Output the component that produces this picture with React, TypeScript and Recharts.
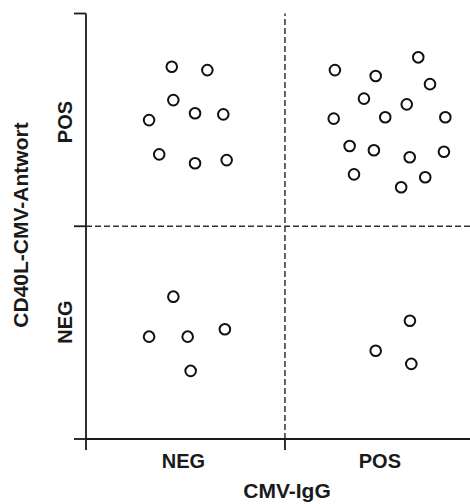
import React from 'react';
import { ScatterChart, Scatter, XAxis, YAxis, ReferenceLine, Label } from 'recharts';

// Quadrant points (x: CMV-IgG scale, y: CD40L-CMV-Antwort scale)
const igNegRespPos = [
  { x: 0.431, y: 1.75 }, { x: 0.61, y: 1.734 }, { x: 0.439, y: 1.593 },
  { x: 0.548, y: 1.531 }, { x: 0.69, y: 1.526 }, { x: 0.317, y: 1.499 },
  { x: 0.368, y: 1.338 }, { x: 0.548, y: 1.296 }, { x: 0.707, y: 1.311 },
];
const igPosRespPos = [
  { x: 1.67, y: 1.794 }, { x: 1.251, y: 1.734 }, { x: 1.456, y: 1.706 },
  { x: 1.729, y: 1.668 }, { x: 1.397, y: 1.6 }, { x: 1.612, y: 1.573 },
  { x: 1.245, y: 1.506 }, { x: 1.504, y: 1.512 }, { x: 1.806, y: 1.512 },
  { x: 1.325, y: 1.377 }, { x: 1.447, y: 1.357 }, { x: 1.627, y: 1.324 },
  { x: 1.799, y: 1.35 }, { x: 1.347, y: 1.244 }, { x: 1.705, y: 1.23 },
  { x: 1.584, y: 1.183 },
];
const igNegRespNeg = [
  { x: 0.439, y: 0.669 }, { x: 0.317, y: 0.481 }, { x: 0.511, y: 0.481 },
  { x: 0.698, y: 0.516 }, { x: 0.526, y: 0.32 },
];
const igPosRespNeg = [
  { x: 1.628, y: 0.556 }, { x: 1.456, y: 0.415 }, { x: 1.635, y: 0.353 },
];

const xDividers = [0, 1];
const xLabelTicks = [0.49, 1.477];
const xLabelNames = ['NEG', 'POS'];
const yDividers = [0, 1, 2];
const yLabelTicks = [0.55, 1.49];
const yLabelNames = ['NEG', 'POS'];

const xTitle = 'CMV-IgG';
const yTitle = 'CD40L-CMV-Antwort';

const FONT = '"Liberation Sans", Arial, Helvetica, sans-serif';
const INK = '#1a1a1a';

const XTick = (props: any) => {
  const { x, y, payload } = props;
  const v = payload.value;
  if (xDividers.includes(v)) {
    return <line x1={x} x2={x} y1={y} y2={y + 11} stroke={INK} strokeWidth={1.8} />;
  }
  const i = xLabelTicks.indexOf(v);
  return (
    <text x={x} y={y + 29} textAnchor="middle" fontFamily={FONT} fontWeight="bold" fontSize={20} fill={INK}>
      {xLabelNames[i]}
    </text>
  );
};

const YTick = (props: any) => {
  const { x, y, payload } = props;
  const v = payload.value;
  if (yDividers.includes(v)) {
    return <line x1={x - 12} x2={x} y1={y} y2={y} stroke={INK} strokeWidth={1.8} />;
  }
  const i = yLabelTicks.indexOf(v);
  return (
    <text transform={`translate(${x - 14},${y}) rotate(-90)`} textAnchor="middle" fontFamily={FONT} fontWeight="bold" fontSize={20} fill={INK}>
      {yLabelNames[i]}
    </text>
  );
};

const Dot = (props: any) => (
  <circle cx={props.cx} cy={props.cy} r={5.3} fill="#fff" stroke="#111" strokeWidth={2} />
);

export default function App() {
  return (
    <div style={{ position: 'absolute', left: 0, top: 0, background: '#fff' }}>
      <ScatterChart width={470} height={504} margin={{ top: 13.5, right: 0, bottom: 35, left: 0 }}>
        <XAxis
          type="number"
          dataKey="x"
          height={30}
          domain={[0, 1.93]}
          ticks={[...xDividers, ...xLabelTicks].sort((a, b) => a - b)}
          interval={0}
          tick={<XTick />}
          tickLine={false}
          tickSize={0}
          tickMargin={0}
          axisLine={{ stroke: INK, strokeWidth: 1.8 }}
          allowDataOverflow
        >
          <Label
            content={() => (
              <text x={287} y={498} textAnchor="middle" fontFamily={FONT} fontWeight="bold" fontSize={21} fill={INK}>
                {xTitle}
              </text>
            )}
          />
        </XAxis>
        <YAxis
          type="number"
          dataKey="y"
          width={86}
          domain={[0, 2]}
          ticks={[...yDividers, ...yLabelTicks].sort((a, b) => a - b)}
          interval={0}
          tick={<YTick />}
          tickLine={false}
          tickSize={0}
          tickMargin={0}
          axisLine={{ stroke: INK, strokeWidth: 1.8 }}
          allowDataOverflow
        >
          <Label
            content={() => (
              <text transform="translate(28,225) rotate(-90)" textAnchor="middle" fontFamily={FONT} fontWeight="bold" fontSize={21} fill={INK}>
                {yTitle}
              </text>
            )}
          />
        </YAxis>
        <ReferenceLine x={1} stroke="#333" strokeWidth={1.5} strokeDasharray="6 3" />
        <ReferenceLine y={1} stroke="#333" strokeWidth={1.5} strokeDasharray="6 3" />
        <Scatter data={igNegRespPos} shape={<Dot />} isAnimationActive={false} />
        <Scatter data={igPosRespPos} shape={<Dot />} isAnimationActive={false} />
        <Scatter data={igNegRespNeg} shape={<Dot />} isAnimationActive={false} />
        <Scatter data={igPosRespNeg} shape={<Dot />} isAnimationActive={false} />
      </ScatterChart>
    </div>
  );
}
